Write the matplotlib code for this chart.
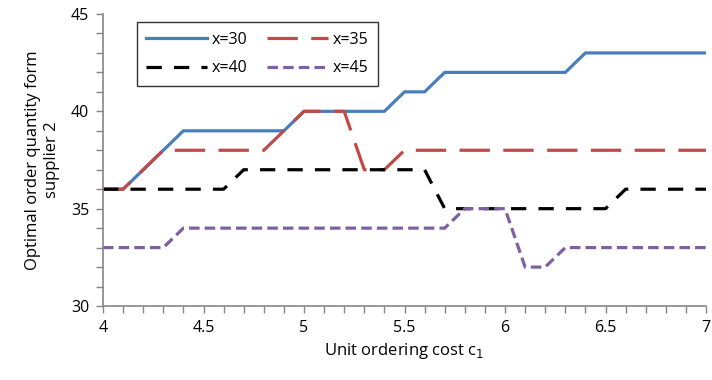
import numpy as np
import matplotlib.pyplot as plt
from matplotlib.ticker import MultipleLocator

plt.rcParams['font.family'] = ['Open Sans', 'DejaVu Sans']

# unit ordering cost c1, step 0.1
cost = [4.0, 4.1, 4.2, 4.3, 4.4, 4.5, 4.6, 4.7, 4.8, 4.9,
        5.0, 5.1, 5.2, 5.3, 5.4, 5.5, 5.6, 5.7, 5.8, 5.9,
        6.0, 6.1, 6.2, 6.3, 6.4, 6.5, 6.6, 6.7, 6.8, 6.9, 7.0]

q_x30 = [36, 36, 37, 38, 39, 39, 39, 39, 39, 39,
         40, 40, 40, 40, 40, 41, 41, 42, 42, 42,
         42, 42, 42, 42, 43, 43, 43, 43, 43, 43, 43]
q_x35 = [36, 36, 37, 38, 38, 38, 38, 38, 38, 39,
         40, 40, 40, 37, 37, 38, 38, 38, 38, 38,
         38, 38, 38, 38, 38, 38, 38, 38, 38, 38, 38]
q_x40 = [36, 36, 36, 36, 36, 36, 36, 37, 37, 37,
         37, 37, 37, 37, 37, 37, 37, 35, 35, 35,
         35, 35, 35, 35, 35, 35, 36, 36, 36, 36, 36]
q_x45 = [33, 33, 33, 33, 34, 34, 34, 34, 34, 34,
         34, 34, 34, 34, 34, 34, 34, 34, 35, 35,
         35, 32, 32, 33, 33, 33, 33, 33, 33, 33, 33]

labels = ['x=30', 'x=35', 'x=40', 'x=45']

fig = plt.figure(figsize=(7.12, 3.8), dpi=100)
ax = fig.add_axes([103 / 712, 1 - 306 / 380, 603 / 712, 292 / 380])

lw = 2.3
l30, = ax.plot(cost, q_x30, color='#4A7EBB', lw=lw, label=labels[0])
l35, = ax.plot(cost, q_x35, color='#BE4B48', lw=lw, dashes=(9.5, 4.2), label=labels[1])
l40, = ax.plot(cost, q_x40, color='black', lw=lw, dashes=(4.8, 3.8), label=labels[2])
l45, = ax.plot(cost, q_x45, color='#7D60A0', lw=lw, dashes=(3.3, 1.6), label=labels[3])

ax.set_xlim(4, 7)
ax.set_ylim(30, 45)
ax.xaxis.set_major_locator(MultipleLocator(0.5))
ax.xaxis.set_minor_locator(MultipleLocator(0.1))
ax.yaxis.set_major_locator(MultipleLocator(5))
ax.yaxis.set_minor_locator(MultipleLocator(1))
ax.xaxis.set_major_formatter(plt.FuncFormatter(lambda v, p: f'{v:g}'))

for s in ['top', 'right']:
    ax.spines[s].set_visible(False)
for s in ['left', 'bottom']:
    ax.spines[s].set_color('#868686')
    ax.spines[s].set_linewidth(1.2)
ax.tick_params(which='both', direction='out', color='#868686', width=1.0,
               length=5, labelsize=11.5, pad=5)

ax.set_xlabel('Unit ordering cost c$_1$', fontsize=12)
ax.set_ylabel('Optimal order quantity form\nsupplier 2', fontsize=12,
              multialignment='center', labelpad=8)

# legend fills column-wise, so order handles to get rows 30|35 and 40|45
leg = ax.legend([l30, l40, l35, l45], [labels[0], labels[2], labels[1], labels[3]],
                ncol=2, loc='upper left', bbox_to_anchor=(0.043, 1.0),
                frameon=True, fancybox=False, edgecolor='black',
                fontsize=11.5, handlelength=3.8, columnspacing=1.2,
                handletextpad=0.3, borderpad=0.6, labelspacing=0.8)
leg.get_frame().set_linewidth(1.0)

fig.savefig('out.png', dpi=100)
